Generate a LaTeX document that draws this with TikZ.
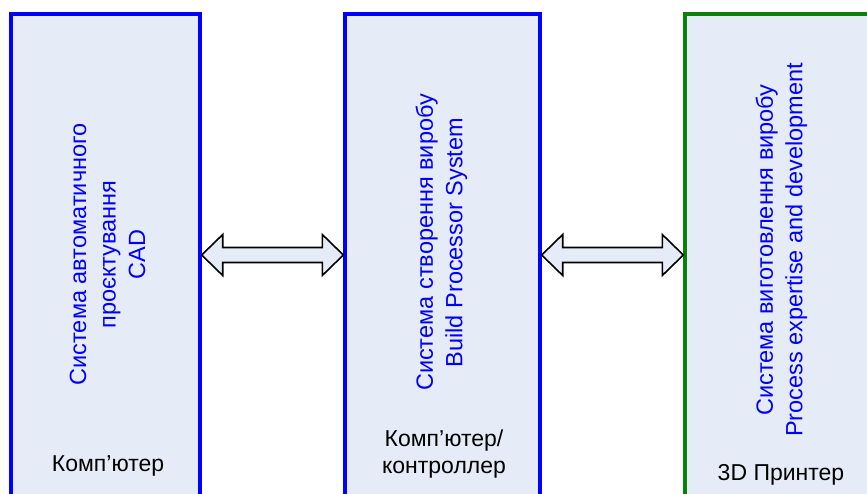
\documentclass[tikz,border=0pt]{standalone}
\usepackage{fontspec}
\setmainfont{Liberation Sans}
\usetikzlibrary{calc}
\definecolor{boxfill}{HTML}{E6ECF7}
\definecolor{bblue}{HTML}{0000FF}
\definecolor{bgreen}{HTML}{0A820A}
\tikzset{
  sysbox/.style={draw=bblue, line width=3.4pt, fill=boxfill, inner sep=0pt, rectangle},
  greenbox/.style={sysbox, draw=bgreen},
  systext/.style={rotate=90, align=center, text=bblue, font=\fontsize{23.5}{29.5}\selectfont, inner sep=0pt},
  devtext/.style={align=center, text=black, font=\fontsize{23}{26.5}\selectfont, inner sep=0pt, anchor=base},
  dblarrow/.style={draw=black, line width=1.6pt, fill=boxfill, line join=miter}
}
\begin{document}
\begin{tikzpicture}[x=1pt,y=-1pt]
\useasboundingbox (0,0) rectangle (867,493);
\clip (0,0) rectangle (867,493);
\node[sysbox, minimum width=189pt, minimum height=516pt] (b1) at (105.5,272) {};
\node[sysbox, minimum width=195pt, minimum height=516pt] (b2) at (442.5,272) {};
\node[greenbox, minimum width=215pt, minimum height=516pt] (b3) at (792.5,272) {};

\node[systext] (t1) at (107.5,254.5) {Система автоматичного\\проєктування\\CAD};
\node[systext] (t2) at (441.5,242.5) {Система створення виробу\\Build Processor System};
\node[systext] (t3) at (781.5,250) {Система виготовлення виробу\\Process expertise and development};

\node[devtext] (d1) at (108,471) {Комп’ютер};
\node[devtext] (d2) at (444,473) {Комп’ютер/\\контроллер};
\node[devtext] (d3) at (781,480) {3D Принтер};

\coordinate (ay) at (0,255);
\coordinate (L1) at (b1.east |- ay);
\coordinate (R1) at (b2.west |- ay);
\coordinate (L2) at (b2.east |- ay);
\coordinate (R2) at (b3.west |- ay);
\foreach \L/\R in {L1/R1, L2/R2}{
  \draw[dblarrow] (\L) -- ++(21,-20.5) -- ++(0,13) -- ($(\R)+(-21,-7.5)$) -- ++(0,-13)
    -- (\R) -- ++(-21,20.5) -- ++(0,-13) -- ($(\L)+(21,7.5)$) -- ++(0,13) -- cycle;
}
\end{tikzpicture}
\end{document}
